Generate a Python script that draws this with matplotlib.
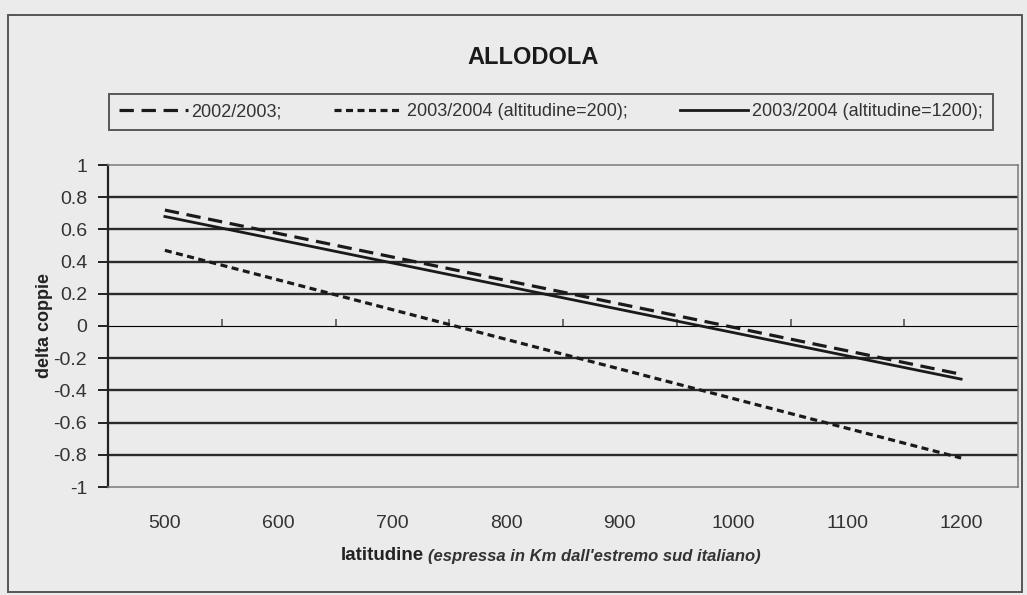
import matplotlib
matplotlib.use("Agg")
import matplotlib.pyplot as plt
from matplotlib.patches import Rectangle

# ---- data ----
categories = [500, 600, 700, 800, 900, 1000, 1100, 1200]
line_x = [500, 1200]                      # straight regression lines: endpoints
y_2002_2003 = [0.72, -0.30]
y_2003_2004_alt200 = [0.47, -0.82]
y_2003_2004_alt1200 = [0.68, -0.33]
labels = ["2002/2003;", "2003/2004 (altitudine=200);", "2003/2004 (altitudine=1200);"]
yticks = [-1, -0.8, -0.6, -0.4, -0.2, 0, 0.2, 0.4, 0.6, 0.8, 1]
ytick_labels = ["-1", "-0.8", "-0.6", "-0.4", "-0.2", "0", "0.2", "0.4", "0.6", "0.8", "1"]
zero_axis_ticks = [550, 650, 750, 850, 950, 1050, 1150]

plt.rcParams["font.family"] = ["Liberation Sans", "DejaVu Sans"]
BG = "#ebebeb"
W, H = 1027, 595

fig = plt.figure(figsize=(W / 100, H / 100), dpi=100, facecolor=BG)
ax = fig.add_axes([108 / W, 1 - 487 / H, (1018 - 108) / W, (487 - 165) / H])
ax.set_facecolor(BG)

# lines
ax.plot(line_x, y_2002_2003, color="#1a1a1a", lw=2.3, linestyle=(0, (4.5, 2.4)),
        label=labels[0], dash_capstyle="butt")
ax.plot(line_x, y_2003_2004_alt200, color="#1a1a1a", lw=2.3, linestyle=(0, (2.2, 1.4)),
        label=labels[1], dash_capstyle="butt")
ax.plot(line_x, y_2003_2004_alt1200, color="#1a1a1a", lw=2.0, linestyle="-",
        label=labels[2])

ax.set_xlim(450, 1250)
ax.set_ylim(-1, 1)

# y axis
ax.set_yticks(yticks)
ax.set_yticklabels(ytick_labels)
ax.tick_params(axis="y", direction="out", length=7, width=1.4, color="#222222",
               labelsize=14, labelcolor="#333333", pad=8)
ax.yaxis.grid(True, color="#2b2b2b", lw=1.7)
for t, v in zip(ax.yaxis.get_major_ticks(), yticks):
    if v in (-1, 0, 1):
        t.gridline.set_visible(False)
ax.set_axisbelow(True)

# x axis labels at bottom (category labels)
ax.set_xticks(categories)
ax.set_xticklabels([str(c) for c in categories])
ax.tick_params(axis="x", length=0, labelsize=14, labelcolor="#333333", pad=20)

for s in ["top", "right", "bottom"]:
    ax.spines[s].set_color("#7a7a7a")
    ax.spines[s].set_linewidth(1.1)
ax.spines["left"].set_color("#222222")
ax.spines["left"].set_linewidth(1.6)

# horizontal category axis crossing at y = 0
sec = ax.secondary_xaxis(0.5)
sec.set_xticks(zero_axis_ticks)
sec.tick_params(axis="x", direction="out", length=5, width=1.2, color="#555555",
                labelbottom=False, labeltop=False)
sec.spines["bottom"].set_color("#6a6a6a")
sec.spines["bottom"].set_linewidth(1.3)

# labels
ax.set_ylabel("delta coppie", fontsize=13, fontweight="bold", color="#222222",
              labelpad=0)
fig.text(424 / W, 1 - 556 / H, "latitudine", ha="right", va="center", fontsize=13.5,
         fontweight="bold", color="#222222")
fig.text(428 / W, 1 - 557 / H, "(espressa in Km dall'estremo sud italiano)", ha="left",
         va="center", fontsize=12, fontstyle="italic", fontweight="bold", color="#333333")

fig.text(533 / W, 1 - 58 / H, "ALLODOLA", ha="center", va="center", fontsize=17,
         fontweight="bold", color="#1a1a1a")

# legend
leg = fig.legend(loc="center", bbox_to_anchor=(551 / W, 1 - 112 / H), ncol=3,
                 fontsize=13, frameon=True, fancybox=False, edgecolor="#333333",
                 facecolor=BG, handlelength=3.8, handletextpad=0.2, columnspacing=2.9,
                 borderpad=0.55, borderaxespad=0, labelcolor="#333333")
leg.get_frame().set_linewidth(1.4)

# outer chart border
fig.patches.append(Rectangle((8 / W, 3 / H), (1022 - 8) / W, (580 - 3) / H,
                             transform=fig.transFigure, fill=False,
                             edgecolor="#555555", lw=1.4))

fig.savefig("out.png", dpi=100, facecolor=BG)
